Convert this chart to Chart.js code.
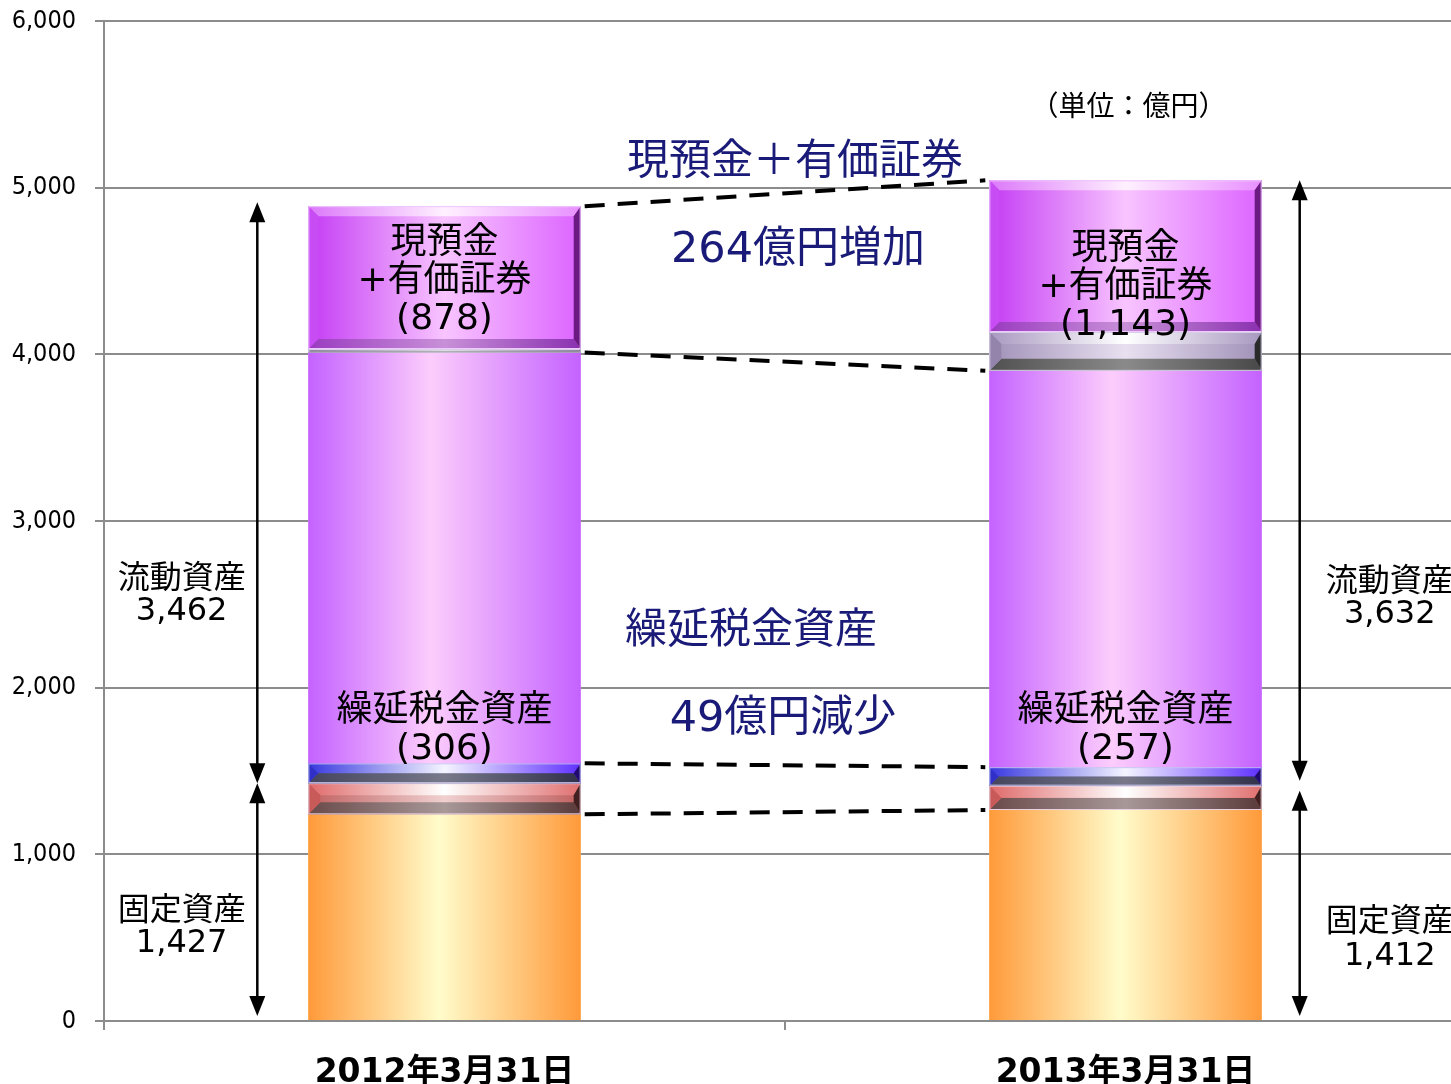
<!DOCTYPE html>
<html lang="ja">
<head>
<meta charset="utf-8">
<title>資産の推移</title>
<script src="https://cdn.jsdelivr.net/npm/chart.js@4.4.1/dist/chart.umd.min.js"></script>
<style>
html, body { margin: 0; padding: 0; background: #fff; overflow: hidden; }
#wrap { width: 1466px; height: 1084px; }
</style>
</head>
<body>
<div id="wrap"><canvas id="assetChart" width="1466" height="1084"></canvas></div>
<script>
// values in 億円, stacked bottom to top
const categories = ['2012年3月31日', '2013年3月31日'];
const fixedOther = [1240, 1266];
const deferredFixed = [187, 146];
const deferredCurrent = [119, 111];
const currentOther = [2465, 2378];
const securities = [21, 233];
const cashDeposits = [857, 910];
// totals shown in the labels
const currentTotal = [3462, 3632];
const fixedTotal = [1427, 1412];
const cashSecTotal = [878, 1143];
const deferredTotal = [306, 257];
const cashSecNote = ['現預金＋有価証券', '264億円増加'];
const deferredNote = ['繰延税金資産', '49億円減少'];
const unitLabel = '（単位：億円）';

const JP = '"Noto Sans CJK JP", sans-serif';
const MIX = '"DejaVu Sans", "Noto Sans CJK JP", sans-serif';
const NAVY = '#1a1a78';

const fmt = v => v.toLocaleString('en-US');

// shading styles: plain = horizontal gradient, bevel = framed 3d look
const shades = [
  { kind: 'plain', stops: [[0, '#ff9a3a'], [0.48, '#fffccb'], [1, '#ff9a3a']] },
  { kind: 'bevel', bevel: 12, face: ['#c06060', '#f0d0d0', '#c06060'], top: ['#e06a6a', '#ffffff', '#e07070'],
    bottom: ['#6a4a4a', '#a89898', '#5a3a3a'], left: '#c85a5a', right: '#402020', line: '#e8d0e0' },
  { kind: 'bevel', bevel: 12, face: ['#4040d0', '#d0d0ff', '#5020f0'], top: ['#3838e0', '#f4f4ff', '#6030ff'],
    bottom: ['#44445e', '#78788a', '#30304a'], left: '#3030c8', right: '#200a70', line: '#c8c8f0' },
  { kind: 'plain', stops: [[0, '#c462ff'], [0.45, '#fccdfc'], [1, '#c462ff']] },
  { kind: 'bevel', bevel: 12, face: ['#a090b8', '#e8e0f0', '#a090b8'], top: ['#a898c0', '#ffffff', '#a898c0'],
    bottom: ['#505050', '#8a8a8a', '#484848'], left: '#9484ac', right: '#2a2a2a', line: '#d8d0e8' },
  { kind: 'bevel', bevel: 10, face: ['#c43cf4', '#f8c4ff', '#dc64ff'], top: ['#dc78fa', '#fff0ff', '#e890ff'],
    bottom: ['#9a3ac0', '#c890d8', '#8a30b0'], left: '#c84cf4', right: '#6a1a80', line: '#f0c8ff' }
];

function hGrad(c, x0, x1, cols) {
  const g = c.createLinearGradient(x0, 0, x1, 0);
  g.addColorStop(0, cols[0]); g.addColorStop(0.5, cols[1]); g.addColorStop(1, cols[2]);
  return g;
}
function quad(c, pts, fill) {
  c.beginPath();
  c.moveTo(pts[0][0], pts[0][1]);
  for (let i = 1; i < pts.length; i++) c.lineTo(pts[i][0], pts[i][1]);
  c.closePath();
  c.fillStyle = fill;
  c.fill();
}
function paintBar(c, x0, y0, x1, y1, st) {
  const w = x1 - x0, h = y1 - y0;
  if (h <= 0) return;
  if (st.kind === 'plain') {
    const g = c.createLinearGradient(x0, 0, x1, 0);
    st.stops.forEach(s => g.addColorStop(s[0], s[1]));
    c.fillStyle = g;
    c.fillRect(x0, y0, w, h);
    return;
  }
  const b = Math.min(st.bevel, h / 2, w / 2);
  const rb = Math.min(b, 7);
  c.fillStyle = hGrad(c, x0, x1, st.face);
  c.fillRect(x0, y0, w, h);
  quad(c, [[x0, y0], [x1, y0], [x1 - rb, y0 + b], [x0 + b, y0 + b]], hGrad(c, x0, x1, st.top));
  quad(c, [[x0, y1], [x1, y1], [x1 - rb, y1 - b], [x0 + b, y1 - b]], hGrad(c, x0, x1, st.bottom));
  quad(c, [[x0, y0], [x0 + b, y0 + b], [x0 + b, y1 - b], [x0, y1]], st.left);
  quad(c, [[x1, y0], [x1 - rb, y0 + b], [x1 - rb, y1 - b], [x1, y1]], st.right);
  c.strokeStyle = st.line;
  c.lineWidth = 1;
  c.strokeRect(x0 + 0.5, y0 + 0.5, w - 1, h - 1);
}

const shadePlugin = {
  id: 'shade',
  afterDatasetsDraw(chart) {
    const c = chart.ctx;
    c.save();
    chart.data.datasets.forEach((ds, i) => {
      const meta = chart.getDatasetMeta(i);
      meta.data.forEach(el => {
        const p = el.getProps(['x', 'y', 'base', 'width'], true);
        paintBar(c, p.x - p.width / 2, Math.min(p.y, p.base), p.x + p.width / 2, Math.max(p.y, p.base), shades[i]);
      });
    });
    c.restore();
  }
};

function head(c, x, tipY, dir) {
  c.beginPath();
  c.moveTo(x, tipY);
  c.lineTo(x - 8, tipY - dir * 20);
  c.lineTo(x + 8, tipY - dir * 20);
  c.closePath();
  c.fill();
}
function arrow(c, x, yTop, yBot) {
  c.beginPath();
  c.moveTo(x, yTop + 12);
  c.lineTo(x, yBot - 12);
  c.stroke();
  head(c, x, yTop, -1);
  head(c, x, yBot, 1);
}
function lines(c, arr, x, yMid, gap) {
  const y0 = yMid - (arr.length - 1) * gap / 2;
  arr.forEach((t, i) => c.fillText(t, x, y0 + i * gap));
}

const notePlugin = {
  id: 'notes',
  afterDraw(chart) {
    const c = chart.ctx;
    const xs = chart.scales.x, ys = chart.scales.y;
    const bw = chart.getDatasetMeta(0).data[0].width;
    const cx0 = xs.getPixelForValue(0), cx1 = xs.getPixelForValue(1);
    const mid = (cx0 + cx1) / 2;
    const Y = v => ys.getPixelForValue(v);
    const cum = k => [0, 1].map(j => [fixedOther, deferredFixed, deferredCurrent, currentOther, securities, cashDeposits]
      .slice(0, k).reduce((s, a) => s + a[j], 0));
    c.save();

    // dashed connectors between the two bars
    c.strokeStyle = '#000';
    c.lineWidth = 4;
    c.setLineDash([20, 13]);
    [6, 4, 3, 1].forEach(k => {
      const v = cum(k);
      c.beginPath();
      c.moveTo(cx0 + bw / 2 + 4, Y(v[0]));
      c.lineTo(cx1 - bw / 2 - 4, Y(v[1]));
      c.stroke();
    });
    c.setLineDash([]);

    // double arrows for current / fixed assets
    c.lineWidth = 2.5;
    c.fillStyle = '#000';
    const xl = cx0 - bw / 2 - 51, xr = cx1 + bw / 2 + 38;
    const tot = cum(6);
    arrow(c, xl, Y(tot[0]) - 4, Y(fixedTotal[0]));
    arrow(c, xl, Y(fixedTotal[0]), Y(0) - 5);
    arrow(c, xr, Y(tot[1]), Y(fixedTotal[1]) - 5);
    arrow(c, xr, Y(fixedTotal[1]) + 5, Y(0) - 5);

    c.textAlign = 'center';
    c.textBaseline = 'middle';
    c.fillStyle = '#000';
    c.font = '32px ' + MIX;
    lines(c, ['流動資産', fmt(currentTotal[0])], (ys.right + xl) / 2 + 1, Y(2550), 32);
    lines(c, ['固定資産', fmt(fixedTotal[0])], (ys.right + xl) / 2 + 1, Y(558), 32);
    lines(c, ['流動資産', fmt(currentTotal[1])], xr + 90, Y(2534), 32);
    lines(c, ['固定資産', fmt(fixedTotal[1])], xr + 90, Y(490), 34);

    // labels inside the bars
    c.font = '36px ' + MIX;
    [0, 1].forEach(j => {
      const top = cum(6)[j], bot = cum(4)[j];
      lines(c, ['現預金', '+有価証券', '(' + fmt(cashSecTotal[j]) + ')'], [cx0, cx1][j], Y((top + bot) / 2) + (j ? 12 : 2), 38);
      const dt = Y(cum(3)[j]);
      lines(c, ['繰延税金資産', '(' + fmt(deferredTotal[j]) + ')'], [cx0, cx1][j], dt - (j ? 37 : 33), 38);
    });

    // change notes between the bars
    c.fillStyle = NAVY;
    c.font = '42px ' + JP;
    c.fillText(cashSecNote[0], mid + 10, Y(5178));
    c.fillText(deferredNote[0], mid - 34, Y(2364));
    c.font = '43px ' + MIX;
    c.fillText(cashSecNote[1], mid + 13, Y(4620));
    c.fillText(deferredNote[1], mid - 2, Y(1806));

    c.fillStyle = '#000';
    c.font = '28px ' + JP;
    c.fillText(unitLabel, cx1 + 3, Y(5496));
    c.restore();
  }
};

const seriesNames = ['固定資産（その他）', '繰延税金資産（固定）', '繰延税金資産（流動）', '流動資産（その他）', '有価証券', '現預金'];
const seriesData = [fixedOther, deferredFixed, deferredCurrent, currentOther, securities, cashDeposits];
const baseColors = ['#ffc070', '#d07070', '#4848d8', '#e090fc', '#a898b8', '#d860f8'];

const assetChart = new Chart(document.getElementById('assetChart'), {
  type: 'bar',
  data: {
    labels: categories,
    datasets: seriesData.map((d, i) => ({
      label: seriesNames[i],
      data: d,
      backgroundColor: baseColors[i],
      borderWidth: 0,
      barPercentage: 1,
      categoryPercentage: 0.4
    }))
  },
  options: {
    responsive: false,
    animation: false,
    layout: { padding: { top: 21, left: 0, right: 0, bottom: 0 } },
    plugins: { legend: { display: false }, tooltip: { enabled: false } },
    scales: {
      x: {
        stacked: true,
        grid: { offset: true, drawOnChartArea: false, color: '#8c8c8c', lineWidth: 2, tickLength: 9 },
        border: { color: '#8c8c8c', width: 2 },
        ticks: { color: '#000', padding: 24, font: { family: MIX, size: 33, weight: 'bold' } },
        afterFit: s => { s.height = 63; }
      },
      y: {
        stacked: true,
        min: 0,
        max: 6000,
        grid: { color: '#8c8c8c', lineWidth: 2, tickLength: 9 },
        border: { color: '#8c8c8c', width: 2 },
        ticks: {
          stepSize: 1000,
          color: '#000',
          padding: 19,
          font: { family: '"DejaVu Sans Condensed", "Liberation Sans", sans-serif', size: 25 },
          callback: v => fmt(v)
        },
        afterFit: s => { s.width = 104; s.paddingTop = 0; s.paddingBottom = 0; }
      }
    }
  },
  plugins: [shadePlugin, notePlugin]
});
</script>
</body>
</html>
